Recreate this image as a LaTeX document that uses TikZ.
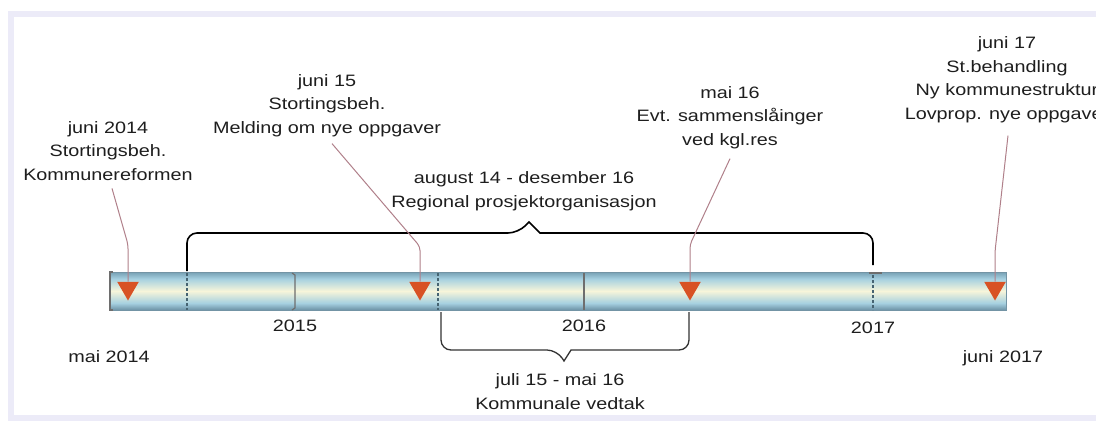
\documentclass[tikz,border=0pt]{standalone}
\usepackage{fontspec}
\setmainfont{Liberation Sans}[FakeStretch=1.2]
\usetikzlibrary{shapes.geometric}
\definecolor{txt}{HTML}{1E1E1E}
\definecolor{framec}{HTML}{ECEBF8}
\definecolor{btop}{RGB}{118,160,180}
\definecolor{bbot}{RGB}{108,146,165}
\definecolor{bblue}{RGB}{166,208,224}
\definecolor{byel}{RGB}{247,245,218}
\definecolor{baredge}{RGB}{115,148,165}
\definecolor{mk}{RGB}{216,82,36}
\definecolor{connc}{RGB}{176,128,138}
\definecolor{tickd}{RGB}{70,100,114}
\definecolor{ticks}{RGB}{110,110,110}
\pgfdeclareverticalshading{barshade}{100bp}{color(0bp)=(bbot); color(25bp)=(bbot); color(34bp)=(bblue); color(50bp)=(byel); color(66bp)=(bblue); color(75bp)=(btop); color(100bp)=(btop)}
\begin{document}
\begin{tikzpicture}[x=1pt,y=-1pt,
  lbl/.style={font=\fontsize{16.5}{23.5}\selectfont, text=txt, align=center, inner sep=0pt, anchor=base},
  marker/.style={regular polygon, regular polygon sides=3, shape border rotate=180, fill=mk, draw=none, inner sep=0pt, minimum size=25pt},
  conn/.style={draw=connc, line width=1pt, rounded corners=4pt},
  dtick/.style={draw=tickd, line width=1.3pt, dash pattern=on 3pt off 2pt},
  stick/.style={draw=ticks, line width=1.2pt},
  bracetop/.style={draw=black, line width=1.6pt},
  bracebot/.style={draw=black!80, line width=1.3pt}]
\useasboundingbox (0,0) rectangle (1096,421);
\clip (0,0) rectangle (1096,421);
\fill[white] (0,0) rectangle (1096,421);
\draw[framec, line width=6pt] (11,14) rectangle (1110,418);
% bar
\shade[shading=barshade] (109,272) rectangle (1006,310);
\draw[baredge, line width=0.8pt] (109,272) rectangle (1006,310);
\draw[stick] (113,272) -- (110,272) -- (110,310) -- (113,310);
% ticks
\draw[dtick] (187,273) -- (187,310);
\draw[dtick] (438,273) -- (438,310);
\draw[dtick] (873,275) -- (873,310);
\draw[ticks, line width=1.2pt] (869,273) -- (882,273);
\draw[stick] (292,273) -- (295,275) -- (295,308) -- (292,310);
\draw[stick] (584,273) -- (584,310);
% braces
\draw[bracetop, rounded corners=10pt] (187,271) -- (187,233) -- (518,233) [sharp corners] -- (529,222) -- (540,233) [rounded corners=10pt] -- (873,233) -- (873,265);
\draw[bracebot, rounded corners=10pt] (441,312) -- (441,350) -- (557,350) [sharp corners] -- (564,361) -- (571,350) [rounded corners=10pt] -- (689,350) -- (689,312);
% markers
\node[marker] (m1) at (128,288) {};
\node[marker] (m2) at (420,288) {};
\node[marker] (m3) at (690,288) {};
\node[marker] (m4) at (995,288) {};
% annotations (anchor = baseline of the last line)
\node[lbl] (a1) at (108,180) {juni 2014\\Stortingsbeh.\\Kommunereformen};
\node[lbl] (a2) at (327,133) {juni 15\\Stortingsbeh.\\Melding om nye oppgaver};
\node[lbl] (a3) at (730,145) {mai 16\\Evt. sammenslåinger\\ved kgl.res};
\node[lbl] (a4) at (1007,119) {juni 17\\St.behandling\\Ny kommunestruktur\\Lovprop. nye oppgaver};
\draw[conn] ([shift={(4pt,-8pt)}]a1.south) -- ([yshift=37pt]m1.north) -- (m1.north);
\draw[conn] ([shift={(5pt,-7pt)}]a2.south) -- ([yshift=35pt]m2.north) -- (m2.north);
\draw[conn] ([shift={(0pt,-10pt)}]a3.south) -- ([yshift=37pt]m3.north) -- (m3.north);
\draw[conn] ([shift={(1pt,-13pt)}]a4.south) -- ([yshift=30pt]m4.north) -- (m4.north);
% brace labels
\node[lbl] (t1) at (524,207) {august 14 - desember 16\\Regional prosjektorganisasjon};
\node[lbl] (t2) at (560,409) {juli 15 - mai 16\\Kommunale vedtak};
% year labels
\node[lbl] (y15) at (295,331) {2015};
\node[lbl] (y16) at (584,331) {2016};
\node[lbl] (y17) at (873,333) {2017};
\node[lbl] (s14) at (109,362) {mai 2014};
\node[lbl] (e17) at (1003,362) {juni 2017};
\end{tikzpicture}
\end{document}
